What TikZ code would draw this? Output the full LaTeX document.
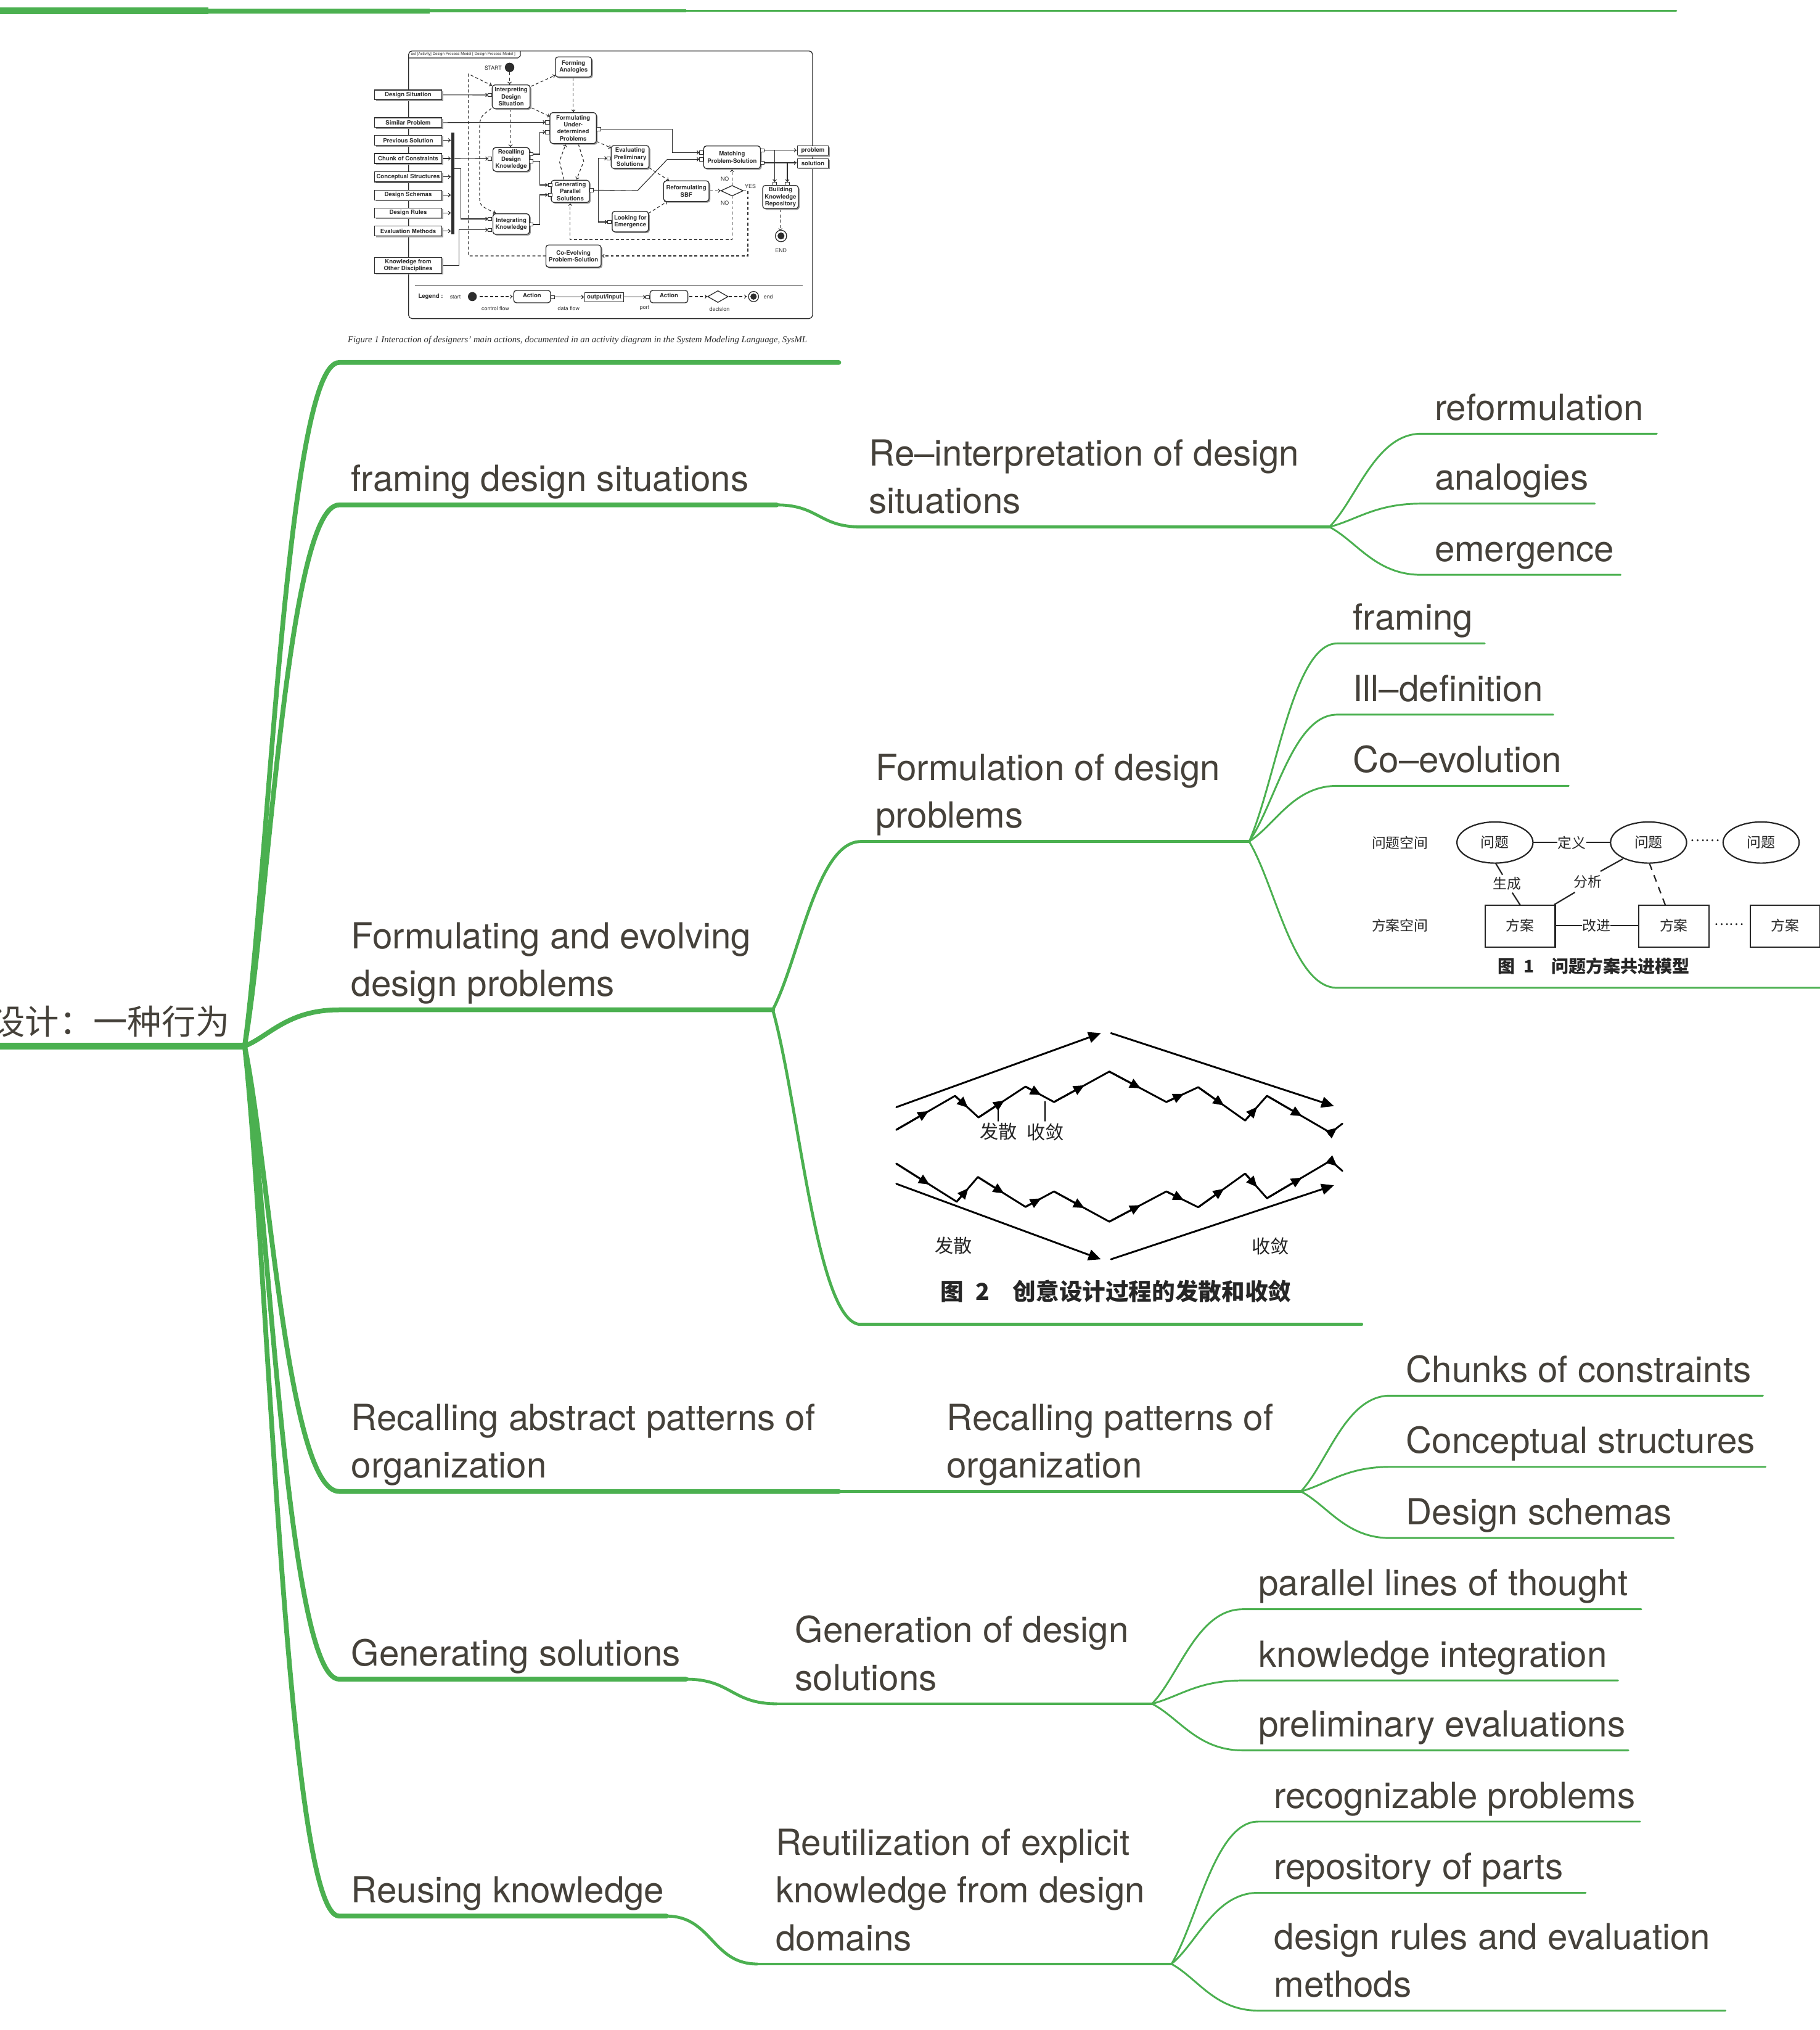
\documentclass[tikz,border=0pt]{standalone}
\usepackage{fontspec}
\setmainfont{TeX Gyre Heros}
\newfontfamily\cjk{Noto Sans CJK SC}
\newfontfamily\serf{Liberation Serif}
\usetikzlibrary{calc,arrows.meta}
\definecolor{gr}{RGB}{75,176,80}
\definecolor{tx}{RGB}{69,65,58}
\definecolor{fg}{RGB}{45,45,45}
\newcommand\lblfont{\fontsize{15.8}{21}\selectfont}
\newcommand\sy{\fontsize{2.6}{3.1}\selectfont\bfseries}
\newcommand\fa{\cjk\fontsize{6.2}{7}\selectfont}
\newcommand\fb{\cjk\fontsize{8.2}{9}\selectfont}
\tikzset{
 l0/.style={draw=gr, line width=2.8pt},
 l1/.style={draw=gr, line width=2.1pt, line cap=round},
 l2/.style={draw=gr, line width=1.3pt, line cap=round},
 l3/.style={draw=gr, line width=0.8pt, line cap=round},
 lbl/.style={anchor=south west, inner sep=0pt, align=left, text=tx, font=\lblfont},
 sbox/.style={draw=fg, line width=0.35pt, fill=white},
 abox/.style={sbox, rounded corners=1.2pt},
 shd/.style={fill=black!40},
 stxt/.style={font=\sy, align=center, inner sep=0pt, text=fg},
 port/.style={draw=fg, line width=0.25pt, fill=white},
 df/.style={draw=fg, line width=0.3pt, -{To[length=1.2pt,width=1.8pt]}},
 cf/.style={df, dash pattern=on 1.3pt off 1pt},
 fl/.style={draw=black!85, line width=0.6pt},
 ft/.style={font=\fa, inner sep=0pt, text=black!85},
 zl/.style={draw=black, line width=0.8pt, line cap=round, line join=round},
 ba/.style={zl, -{Triangle[length=5.5pt,width=4.8pt]}},
 za/.style={zl, -{Triangle[length=4.8pt,width=4.2pt]}},
 gt/.style={font=\fb, inner sep=0pt, text=black!85},
}
\begin{document}
\begin{tikzpicture}[x=0.2mm, y=-0.2mm]
\useasboundingbox (0,0) rectangle (1406,1568);

% ---------- top strip (cut-off branch) ----------
\coordinate (t0) at (-5,8.4);
\coordinate (t1) at (161,8.4);
\coordinate (t2) at (332,8.4);
\coordinate (t3) at (530,8.4);
\coordinate (t4) at (1295,8.4);
\draw[l0] (t0) -- (t1);
\draw[l1, line cap=butt] (t1) -- (t2);
\draw[l2, line cap=butt] (t2) -- (t3);
\draw[l3] (t3) -- (t4);

% ---------- root ----------
\coordinate (R) at (189,808);
\node[anchor=base east, inner sep=0pt, text=tx, font=\cjk\fontsize{15}{18}\selectfont] (root) at (178,799) {设计：一种行为};
\draw[l0] (-5,808) -- (R);

% ---------- level 1 ----------
\coordinate (A1) at (262,280);  \coordinate (A1e) at (648,280);
\coordinate (A2) at (262,390);  \coordinate (A2e) at (600,390);
\coordinate (A3) at (262,780);  \coordinate (A3e) at (597,780);
\coordinate (A4) at (262,1152); \coordinate (A4e) at (648,1152);
\coordinate (A5) at (262,1297); \coordinate (A5e) at (530,1297);
\coordinate (A6) at (262,1480); \coordinate (A6e) at (515,1480);
\foreach \s/\e in {A1/A1e,A2/A2e,A3/A3e,A4/A4e,A5/A5e,A6/A6e}
  \draw[l1] (R) .. controls ($(R)!0.25!(\s)$) and ($(\s)!0.55!(R |- \s)$) .. (\s) -- (\e);

\node[lbl] (n1) at (271,391) {framing design situations\strut};
\node[lbl] (n2) at (271,781) {Formulating and evolving\\design problems\strut};
\node[lbl] (n3) at (271,1153) {Recalling abstract patterns of\\organization\strut};
\node[lbl] (n4) at (271,1298) {Generating solutions\strut};
\node[lbl] (n5) at (271,1481) {Reusing knowledge\strut};

% ---------- level 2 ----------
\coordinate (B1) at (665,407);  \coordinate (B1e) at (1027,407);
\coordinate (B2) at (665,650);  \coordinate (B2e) at (965,650);
\coordinate (B3) at (665,1023); \coordinate (B3e) at (1052,1023);
\coordinate (B4) at (648,1152); \coordinate (B4e) at (1005,1152);
\coordinate (B5) at (600,1316); \coordinate (B5e) at (890,1316);
\coordinate (B6) at (585,1517); \coordinate (B6e) at (905,1517);
\foreach \p/\q in {A2e/B1,A5e/B5,A6e/B6}
  \draw[l2] (\p) .. controls ($(\p)!0.5!(\p -| \q)$) and ($(\q)!0.5!(\p |- \q)$) .. (\q);
\foreach \q in {B2,B3}
  \draw[l2] (A3e) .. controls ($(A3e)!0.3!(\q)$) and ($(\q)!0.5!(A3e |- \q)$) .. (\q);
\foreach \s/\e in {B1/B1e,B2/B2e,B3/B3e,B4/B4e,B5/B5e,B6/B6e}
  \draw[l2] (\s) -- (\e);

\node[lbl] (m1) at (671,408) {Re–interpretation of design\\situations\strut};
\node[lbl] (m2) at (676,651) {Formulation of design\\problems\strut};
\node[lbl] (m4) at (731,1153) {Recalling patterns of\\organization\strut};
\node[lbl] (m5) at (614,1317) {Generation of design\\solutions\strut};
\node[lbl] (m6) at (599,1518) {Reutilization of explicit\\knowledge from design\\domains\strut};

% ---------- level 3 ----------
\coordinate (C11) at (1098,335);  \coordinate (C11e) at (1280,335);
\coordinate (C12) at (1098,389);  \coordinate (C12e) at (1232,389);
\coordinate (C13) at (1098,444);  \coordinate (C13e) at (1252,444);
\coordinate (C21) at (1033,497);  \coordinate (C21e) at (1147,497);
\coordinate (C22) at (1033,552);  \coordinate (C22e) at (1200,552);
\coordinate (C23) at (1033,607);  \coordinate (C23e) at (1212,607);
\coordinate (C24) at (1033,763);  \coordinate (C24e) at (1412,763);
\coordinate (C41) at (1074,1078); \coordinate (C41e) at (1362,1078);
\coordinate (C42) at (1074,1133); \coordinate (C42e) at (1364,1133);
\coordinate (C43) at (1074,1188); \coordinate (C43e) at (1293,1188);
\coordinate (C51) at (960,1243);  \coordinate (C51e) at (1268,1243);
\coordinate (C52) at (960,1298);  \coordinate (C52e) at (1250,1298);
\coordinate (C53) at (960,1352);  \coordinate (C53e) at (1258,1352);
\coordinate (C61) at (972,1407);  \coordinate (C61e) at (1267,1407);
\coordinate (C62) at (972,1462);  \coordinate (C62e) at (1225,1462);
\coordinate (C63) at (972,1553);  \coordinate (C63e) at (1333,1553);
\foreach \p/\q/\e in {B1e/C11/C11e,B1e/C12/C12e,B1e/C13/C13e,
  B2e/C21/C21e,B2e/C22/C22e,B2e/C23/C23e,B2e/C24/C24e,
  B4e/C41/C41e,B4e/C42/C42e,B4e/C43/C43e,
  B5e/C51/C51e,B5e/C52/C52e,B5e/C53/C53e,
  B6e/C61/C61e,B6e/C62/C62e,B6e/C63/C63e}
  \draw[l3] (\p) .. controls ($(\p)!0.3!(\q)$) and ($(\q)!0.5!(\p |- \q)$) .. (\q) -- (\e);

\node[lbl] (k11) at (1108,336) {reformulation\strut};
\node[lbl] (k12) at (1108,390) {analogies\strut};
\node[lbl] (k13) at (1108,445) {emergence\strut};
\node[lbl] (k21) at (1045,498) {framing\strut};
\node[lbl] (k22) at (1045,553) {Ill–definition\strut};
\node[lbl] (k23) at (1045,608) {Co–evolution\strut};
\node[lbl] (k41) at (1086,1079) {Chunks of constraints\strut};
\node[lbl] (k42) at (1086,1134) {Conceptual structures\strut};
\node[lbl] (k43) at (1086,1189) {Design schemas\strut};
\node[lbl] (k51) at (972,1244) {parallel lines of thought\strut};
\node[lbl] (k52) at (972,1299) {knowledge integration\strut};
\node[lbl] (k53) at (972,1353) {preliminary evaluations\strut};
\node[lbl] (k61) at (984,1408) {recognizable problems\strut};
\node[lbl] (k62) at (984,1463) {repository of parts\strut};
\node[lbl] (k63) at (984,1554) {design rules and evaluation\\methods\strut};

% ---------- SysML activity diagram ----------
\begin{scope}[shift={(262.03,28.585)}, xscale=0.2438, yscale=0.15876]
 \draw[draw=fg, line width=0.35pt, rounded corners=1.5pt] (220,68) rectangle (1500,1370);
 \draw[draw=fg, line width=0.3pt] (220,102) -- (566,102) -- (574,92) -- (574,68);
 \node[font=\fontsize{1.7}{2}\selectfont, text=fg, anchor=west, inner sep=0pt] (stab) at (226,85) {act [Activity] Design Process Model [ Design Process Model ]};
 % data flows
 \draw[df] (325,281.5) -- (472,282);
 \draw[df] (325,416.5) -- (654,415);
 \foreach \y in {502.5,591,680,769,856,944} \draw[df] (325,\y) -- (354,\y);
 \draw[df] (366,591) -- (472,592);
 \draw[df] (366,640) -- (385,640) -- (385,885) -- (472,885);
 \draw[df] (325,1111) -- (380,1111) -- (380,938) -- (472,938);
 \draw[df] (615,570) -- (635,570) -- (635,463) -- (654,463);
 \draw[df] (615,604) -- (635,604) -- (635,720) -- (662,720);
 \draw[df] (615,912) -- (635,912) -- (635,768) -- (662,768);
 \draw[df] (828,448) -- (1055,448) -- (1055,562) -- (1142,562);
 \draw[df] (805,745) -- (945,748) -- (1040,595) -- (1142,595);
 \draw[df] (822,747) -- (822,590) -- (849,590);
 \draw[df] (822,747) -- (822,900) -- (851,900);
 \draw[df] (1347,551) -- (1450,551);
 \draw[df] (1347,612) -- (1450,612);
 \draw[df] (1380,551) -- (1380,706);
 \draw[df] (1420,612) -- (1420,706);
 % control flows
 \draw[cf] (540,172) -- (540,231);
 \draw[cf] (608,240) -- (685,186);
 \draw[cf] (742,198) -- (742,366);
 \draw[cf] (610,345) -- (668,387);
 \draw[cf] (543,350) -- (543,536);
 \draw[cf] (482,348) .. controls (445,390) .. (445,470) -- (445,770) .. controls (445,820) .. (497,858);
 \draw[cf] (655,1065) -- (410,1065) -- (410,180) -- (484,236);
 \draw[cf] (1280,748) -- (1295,748) -- (1295,1065) -- (832,1065);
 \draw[cf] (712,694) -- (698,605) -- (718,521);
 \draw[cf] (758,521) -- (775,605) -- (752,694);
 \draw[cf] (816,508) -- (862,540);
 \draw[cf] (982,636) -- (1045,698);
 \draw[cf] (980,858) -- (1040,800);
 \draw[cf] (1174,748) -- (1209,748);
 \draw[cf] (1245,723) -- (1245,643);
 \draw[cf] (1245,773) -- (1245,985) -- (732,985) -- (732,808);
 \draw[cf] (1398,838) -- (1398,944);
 % fork bar
 \fill[fg] (355,465) rectangle (366,960);
 % object boxes
 \foreach \ya/\yb/\t [count=\i] in {258/305/{Design Situation},393/440/{Similar Problem},478/527/{Previous Solution},567/615/{Chunk of Constraints},655/705/{Conceptual Structures},745/793/{Design Schemas},832/880/{Design Rules},920/968/{Evaluation Methods},1072/1150/{Knowledge from\\Other Disciplines}}{
   \fill[shd] (116,\ya+6) rectangle (329,\yb+6);
   \draw[sbox] (112,\ya) rectangle (325,\yb);
   \node[stxt] (sl\i) at (218.5,{(\ya+\yb)/2}) {\t};
 }
 \foreach \ya/\yb/\t [count=\i] in {530/575/problem,592/637/solution}{
   \fill[shd] (1456,\ya+6) rectangle (1554,\yb+6);
   \draw[sbox] (1452,\ya) rectangle (1550,\yb);
   \node[stxt] (so\i) at (1501,{(\ya+\yb)/2}) {\t};
 }
 % action boxes
 \foreach \xa/\ya/\xb/\yb/\t/\nm in {685/97/800/195/{Forming\\Analogies}/sfa,
   485/233/605/348/{Interpreting\\Design\\Situation}/sid,
   668/368/815/518/{Formulating\\Under-\\determined\\Problems}/sfu,
   487/538/603/653/{Recalling\\Design\\Knowledge}/srd,
   862/528/982/640/{Evaluating\\Preliminary\\Solutions}/sep,
   1155/530/1335/640/{Matching\\Problem-Solution}/smp,
   672/697/793/805/{Generating\\Parallel\\Solutions}/sgp,
   1028/700/1172/800/{Reformulating\\SBF}/srs,
   1342/722/1455/835/{Building\\Knowledge\\Repository}/sbk,
   487/860/603/960/{Integrating\\Knowledge}/sik,
   865/848/980/948/{Looking for\\Emergence}/sle,
   655/1012/830/1120/{Co-Evolving\\Problem-Solution}/sce}{
   \fill[shd, rounded corners=1.2pt] (\xa+4,\ya+6) rectangle (\xb+4,\yb+6);
   \draw[abox] (\xa,\ya) rectangle (\xb,\yb);
   \node[stxt] (\nm) at ({(\xa+\xb)/2},{(\ya+\yb)/2}) {\t};
 }
 % ports
 \foreach \x/\y in {478/282,660/415,660/463,478/592,609/570,609/604,822/448,668/720,668/768,799/745,478/885,478/938,609/912,855/590,857/900,1148/562,1148/595,1341/551,1341/612,1380/714,1420/714}
   \draw[port] (\x-6,\y-8) rectangle (\x+6,\y+8);
 % decision, start, end
 \draw[sbox] (1210,748) -- (1245,723) -- (1280,748) -- (1245,773) -- cycle;
 \fill[fg] (540,148) ellipse [x radius=15, y radius=23];
 \draw[draw=fg, line width=0.35pt, fill=white] (1400,968) ellipse [x radius=18, y radius=28];
 \fill[fg] (1400,968) ellipse [x radius=11, y radius=17];
 \node[stxt, font=\fontsize{2.4}{3}\selectfont] (sst) at (488,150) {START};
 \node[stxt, font=\fontsize{2.4}{3}\selectfont] (sen) at (1400,1040) {END};
 \node[stxt, font=\fontsize{2.4}{3}\selectfont] (sn1) at (1222,692) {NO};
 \node[stxt, font=\fontsize{2.4}{3}\selectfont] (sn2) at (1222,808) {NO};
 \node[stxt, font=\fontsize{2.4}{3}\selectfont] (sy1) at (1303,726) {YES};
 % legend
 \draw[draw=fg, line width=0.3pt] (240,1210) -- (1468,1210);
 \node[stxt] (lg) at (290,1263) {Legend :};
 \node[stxt, font=\fontsize{2.4}{3}\selectfont] (lgs) at (368,1265) {start};
 \fill[fg] (422,1263) ellipse [x radius=14, y radius=22];
 \draw[cf] (445,1263) -- (550,1263);
 \draw[abox] (553,1233) rectangle (670,1293);
 \node[stxt] (la1) at (611,1258) {Action};
 \draw[port] (671,1258) rectangle (683,1273);
 \draw[df] (683,1265) -- (776,1265);
 \draw[sbox] (778,1243) rectangle (902,1288);
 \node[stxt] (lo) at (840,1265) {output/input};
 \draw[df] (902,1265) -- (972,1265);
 \draw[port] (972,1258) rectangle (984,1273);
 \draw[abox] (985,1233) rectangle (1105,1293);
 \node[stxt] (la2) at (1045,1258) {Action};
 \draw[cf] (1110,1263) -- (1167,1263);
 \draw[sbox] (1168,1263) -- (1200,1235) -- (1232,1263) -- (1200,1291) -- cycle;
 \draw[cf] (1235,1263) -- (1292,1263);
 \draw[draw=fg, line width=0.35pt, fill=white] (1313,1263) ellipse [x radius=16, y radius=25];
 \fill[fg] (1313,1263) ellipse [x radius=10, y radius=15];
 \node[stxt, font=\fontsize{2.4}{3}\selectfont] (lge) at (1360,1265) {end};
 \node[stxt, font=\fontsize{2.4}{3}\selectfont] (lcf) at (495,1320) {control flow};
 \node[stxt, font=\fontsize{2.4}{3}\selectfont] (ldf) at (727,1320) {data flow};
 \node[stxt, font=\fontsize{2.4}{3}\selectfont] (lpt) at (968,1320) {port};
 \node[stxt, font=\fontsize{2.4}{3}\selectfont] (ldc) at (1205,1323) {decision};
 % caption
 \node[font=\serf\itshape\fontsize{4}{5}\selectfont, text=fg, inner sep=0pt] (scap) at (755,1475) {Figure 1 Interaction of designers’ main actions, documented in an activity diagram in the System Modeling Language, SysML};
\end{scope}

% ---------- Figure 1: problem-solution co-evolution ----------
\begin{scope}[shift={(1038.6,609.8)}, xscale=0.235, yscale=0.1588]
 \node[ft] (ps) at (183,258) {问题空间};
 \node[ft] (ss) at (183,660) {方案空间};
 \foreach \x/\nm in {495/e1,1000/e2,1370/e3}{
   \draw[fl] (\x,258) ellipse [x radius=125, y radius=100];
   \node[ft] (\nm) at (\x,258) {问题};
 }
 \foreach \x/\nm in {578/r1,1083/r2,1449/r3}{
   \draw[fl] (\x-115,562) rectangle (\x+115,767);
   \node[ft] (\nm) at (\x,662) {方案};
 }
 \node[ft] (dy) at (747,258) {定义};
 \draw[fl] (620,258) -- (700,258);
 \draw[fl] (795,258) -- (875,258);
 \node[ft] (dt1) at (1185,250) {……};
 \node[ft] (sc) at (535,458) {生成};
 \draw[fl] (497,358) -- (520,415);
 \draw[fl] (552,502) -- (578,562);
 \node[ft] (fx) at (800,448) {分析};
 \draw[fl] (690,560) -- (758,500);
 \draw[fl] (842,398) -- (915,338);
 \draw[fl, dash pattern=on 3pt off 2.5pt] (1003,360) -- (1055,562);
 \node[ft] (gj) at (828,662) {改进};
 \draw[fl] (693,662) -- (782,662);
 \draw[fl] (875,662) -- (968,662);
 \node[ft] (dt2) at (1265,658) {……};
 \node[font=\cjk\bfseries\fontsize{7.6}{8.5}\selectfont, inner sep=0pt, text=black!85] (f1cap) at (820,860) {图\enspace 1\quad 问题方案共进模型};
\end{scope}

% ---------- Figure 2: divergence and convergence ----------
\begin{scope}[shift={(657.5,771.8)}, xscale=0.2591, yscale=0.1588]
 \draw[ba] (135,525) -- (745,165);
 \draw[ba] (775,165) -- (1440,520);
 \draw[ba] (135,898) -- (745,1265);
 \draw[ba] (775,1265) -- (1440,905);
 \foreach \xa/\ya/\xb/\yb in {135/635/310/470, 310/470/380/575, 380/575/520/425, 520/425/605/500, 605/500/770/352, 770/352/940/500, 940/500/1035/428, 1035/428/1175/590, 1175/590/1240/470, 1240/470/1430/650, 1430/650/1465/605,
   135/800/315/985, 315/985/378/865, 378/865/520/1010, 520/1010/605/935, 605/935/770/1082, 770/1082/940/935, 940/935/1035/1012, 1035/1012/1175/848, 1175/848/1240/968, 1240/968/1430/785, 1430/785/1465/835}{
   \draw[zl] (\xa,\ya) -- (\xb,\yb);
   \draw[za] (\xa,\ya) -- ($(\xa,\ya)!0.55!(\xb,\yb)$);
 }
 \draw[zl, line width=0.6pt] (438,535) -- (438,592);
 \draw[zl, line width=0.6pt] (578,498) -- (578,592);
 \node[gt] (g1) at (440,645) {发散};
 \node[gt] (g2) at (580,645) {收敛};
 \node[gt] (g3) at (305,1200) {发散};
 \node[gt] (g4) at (1250,1200) {收敛};
 \node[font=\cjk\bfseries\fontsize{10.2}{11}\selectfont, inner sep=0pt, text=black!85] (f2cap) at (790,1420) {图\enspace 2\quad 创意设计过程的发散和收敛};
\end{scope}

\end{tikzpicture}
\end{document}
